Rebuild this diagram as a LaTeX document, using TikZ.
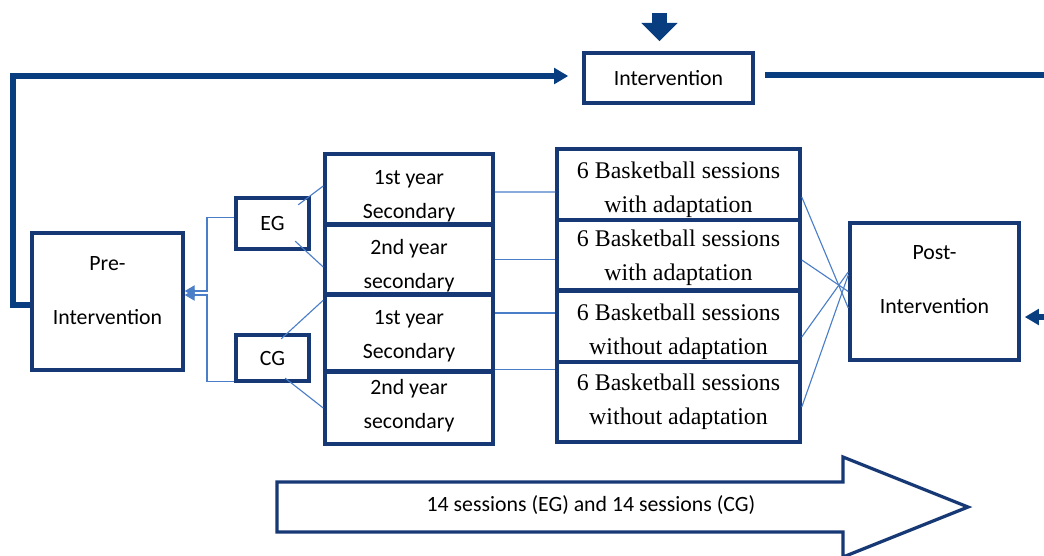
\documentclass[tikz,border=0pt]{standalone}
\usepackage{fontspec}
\setmainfont{Liberation Serif}
\setsansfont{Carlito}
\usetikzlibrary{arrows.meta}
\usetikzlibrary{calc}

\definecolor{boxblue}{RGB}{22,56,116}
\definecolor{arrowblue}{RGB}{8,62,128}
\definecolor{lineblue}{RGB}{74,126,200}
\newcommand{\pxlen}{0.025cm}

\begin{document}
\begin{tikzpicture}[x = 0.025cm, y = -0.025cm,
    stagebox/.style = {draw = boxblue, line width = 2.5pt, inner sep = 0pt,
                       font = \sffamily\fontsize{15.5}{24}\selectfont},
    sanstext/.style = {align = center, font = \sffamily\fontsize{15.5}{24}\selectfont},
    widetext/.style = {align = center, font = \sffamily\fontsize{15.5}{39}\selectfont},
    serftext/.style = {align = center, font = \rmfamily\fontsize{17}{24}\selectfont},
    link/.style = {draw = lineblue, line width = 0.8pt},
    loopline/.style = {draw = arrowblue, line width = 3.6pt,
                       -{Triangle[length = 10pt, width = 11pt]}}]
    \useasboundingbox (0, 0) rectangle (1044, 555);

    % main stages
    \node [stagebox, minimum width = 169*\pxlen, minimum height = 50*\pxlen] (interv) at (668.5, 78) {Intervention};
    \node [stagebox, minimum width = 151*\pxlen, minimum height = 137*\pxlen,
           label = {[widetext, yshift = 7.8pt]center:Pre-\\Intervention}] (pre) at (107.5, 301.5) {};
    \node [stagebox, minimum width = 169*\pxlen, minimum height = 137*\pxlen,
           label = {[widetext, yshift = 8.5pt]center:Post-\\Intervention}] (post) at (934.5, 291.5) {};

    % groups
    \node [stagebox, line width = 3.1pt, minimum width = 73*\pxlen, minimum height = 51*\pxlen] (eg) at (272.5, 223.5) {EG};
    \node [stagebox, line width = 3.1pt, minimum width = 73*\pxlen, minimum height = 46*\pxlen] (cg) at (272.5, 358) {CG};

    % school years
    \node [stagebox, minimum width = 168*\pxlen, minimum height = 70*\pxlen,
           label = {[sanstext, yshift = -5pt]center:1st year\\Secondary}] (yr1) at (409, 189) {};
    \node [stagebox, minimum width = 168*\pxlen, minimum height = 69*\pxlen,
           label = {[sanstext, yshift = -4.6pt]center:2nd year\\secondary}] (yr2) at (409, 259.5) {};
    \node [stagebox, minimum width = 168*\pxlen, minimum height = 76*\pxlen,
           label = {[sanstext, yshift = -2.5pt]center:1st year\\Secondary}] (yr3) at (409, 333) {};
    \node [stagebox, minimum width = 168*\pxlen, minimum height = 72*\pxlen,
           label = {[sanstext, yshift = 1.8pt]center:2nd year\\secondary}] (yr4) at (409, 408) {};

    % sessions
    \node [stagebox, minimum width = 243*\pxlen, minimum height = 71*\pxlen,
           label = {[serftext, yshift = -3.9pt]center:6 Basketball sessions\\with adaptation}] (ses1) at (678.5, 184.5) {};
    \node [stagebox, minimum width = 243*\pxlen, minimum height = 70*\pxlen,
           label = {[serftext, yshift = -1.8pt]center:6 Basketball sessions\\with adaptation}] (ses2) at (678.5, 255) {};
    \node [stagebox, minimum width = 243*\pxlen, minimum height = 71*\pxlen,
           label = {[serftext, yshift = -3.6pt]center:6 Basketball sessions\\without adaptation}] (ses3) at (678.5, 326.5) {};
    \node [stagebox, minimum width = 243*\pxlen, minimum height = 80*\pxlen,
           label = {[serftext, yshift = 0pt]center:6 Basketball sessions\\without adaptation}] (ses4) at (678.5, 402) {};

    % groups back to pre
    \draw [link, -{Triangle[length = 7pt, width = 8pt]}] ($(eg.west)+(0, -6)$) -| (207, 291) -- ($(pre.east)+(0, -10.5)$);
    \draw [link, -{Triangle[length = 7pt, width = 8pt]}] ($(cg.south west)+(0, -2)$) -| (207, 295) -- ($(pre.east)+(0, -6.5)$);

    % groups to years
    \draw [link] ($(eg.north east)+(-13, 9)$) -- ($(yr1.west)+(0, -3)$);
    \draw [link] ($(eg.south east)+(-16, -10)$) -- ($(yr2.west)+(0, 7.5)$);
    \draw [link] ($(cg.north east)+(-30, 6)$) -- ($(yr3.north west)+(0, 7)$);
    \draw [link] ($(cg.south east)+(-26, -5)$) -- (yr4.west);

    % years to sessions
    \draw [link] ($(yr1.east)+(0, 3)$) -- ($(ses1.west)+(0, 7.5)$);
    \draw [link] (yr2.east) -- ($(ses2.west)+(0, 4.5)$);
    \draw [link] ($(yr3.east)+(0, -20)$) -- ($(ses3.west)+(0, -13.5)$);
    \draw [link] ($(yr4.north east)+(0, -1)$) -- ($(ses4.north west)+(0, 9)$);

    % sessions to post
    \draw [link] ($(ses1.east)+(0, 12.5)$) -- ($(post.west)+(0, 16.5)$);
    \draw [link] ($(ses2.east)+(0, 5)$) -- (post.west);
    \draw [link] ($(ses3.east)+(0, 10.5)$) -- ($(post.west)+(0, -19.5)$);
    \draw [link] ($(ses4.east)+(0, 5)$) -- ($(post.west)+(0, -16.5)$);

    % feedback loop
    \coordinate (lcorner) at (13, 76);
    \coordinate (rcorner) at (1062, 75);
    \coordinate (drop) at (659.5, 13);
    \draw [loopline] ($(pre.west)+(0, 3.5)$) -| (lcorner) -- ($(interv.west)+(-14, -2)$);
    \draw [loopline] ($(interv.east)+(10, -3)$) -- (rcorner) |- ($(post.east)+(4, 25.5)$);
    \draw [arrowblue, line width = 10.7pt, -{Triangle[length = 13pt, width = 25pt]}] (drop) -- ($(interv.north)+(-9, -10)$);

    % overall duration
    \draw [boxblue, line width = 2.3pt] (277, 482) -- (843, 482) -- (843, 457) -- (968, 507)
        -- (843, 557) -- (843, 532) -- (277, 532) -- cycle;
    \node [sanstext] (span) at (591, 505) {14 sessions (EG) and 14 sessions (CG)};
\end{tikzpicture}
\end{document}
